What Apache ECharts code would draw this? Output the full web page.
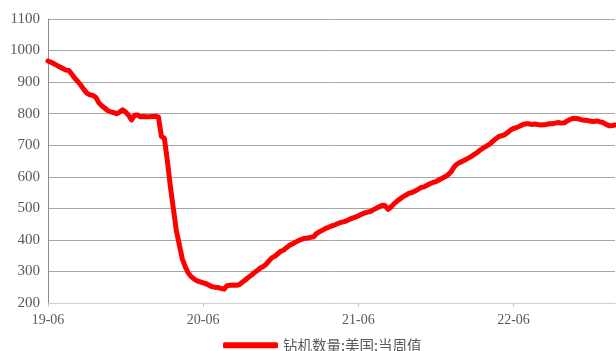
<!DOCTYPE html>
<html>
<head>
<meta charset="utf-8">
<script src="https://cdn.jsdelivr.net/npm/echarts@6/dist/echarts.min.js"></script>
<style>
  html, body { margin: 0; padding: 0; background: #ffffff; }
  #chart { width: 616px; height: 351px; }
</style>
</head>
<body>
<div id="chart"></div>
<script>
// Weekly US rig count (当周值), one block per year starting in June
const rigs2019 = [
  967, 963, 958, 953, 948, 943, 938, 937, 925, 912,
  902, 890, 877, 865, 860, 858, 852, 835, 825, 818,
  810, 806, 803, 800, 805, 812, 805, 795, 780, 795,
  796, 790, 791, 790, 790, 791, 792, 790, 728, 722,
  650, 570, 500, 430, 385, 340, 315, 295, 283, 276,
  270, 267
];
const rigs2020 = [
  264, 261, 256, 252, 250, 249, 246, 244, 255, 256,
  257, 256, 258, 265, 272, 280, 287, 295, 302, 310,
  315, 322, 333, 343, 348, 356, 364, 368, 376, 383,
  388, 393, 398, 402, 405, 406, 408, 410, 420, 426,
  431, 436, 440, 444, 447, 451, 455, 457, 460, 465,
  469, 472
];
const rigs2021 = [
  476, 481, 485, 488, 490, 495, 500, 505, 510, 508,
  497, 505, 515, 523, 530, 537, 542, 548, 550, 555,
  560, 566, 568, 573, 578, 582, 585, 590, 595, 600,
  606, 615, 630, 640, 645, 650, 655, 660, 665, 672,
  678, 686, 692, 698, 703, 712, 720, 727, 730, 733,
  740, 748
];
const rigs2022 = [
  753, 756, 760, 765, 768, 768, 766, 767, 766, 764,
  765, 766, 768, 768, 770, 772, 770, 771, 777, 782,
  785, 785, 783, 780, 779, 778, 776, 775, 777, 774,
  772, 766, 762, 762, 764
];
const rigCount = [].concat(rigs2019, rigs2020, rigs2021, rigs2022);

// Week-ending dates for the category axis
const firstWeek = new Date(Date.UTC(2019, 5, 7));
const weeks = rigCount.map((_, i) => {
  const d = new Date(firstWeek.getTime() + i * 7 * 86400000);
  return d.toISOString().slice(0, 10);
});

// Axis ticks: first week of June each year
const tickWeeks = [0, 52, 104, 156];
const tickLabels = ['19-06', '20-06', '21-06', '22-06'];

const seriesName = '钻机数量:美国:当周值';
const serif = '"Liberation Serif", "Times New Roman", serif';

const chart = echarts.init(document.getElementById('chart'), null, { renderer: 'canvas' });
chart.setOption({
  animation: false,
  backgroundColor: '#ffffff',
  grid: { left: 48, right: 1, top: 19, bottom: 48, containLabel: false },
  xAxis: {
    type: 'category',
    data: weeks,
    boundaryGap: false,
    axisLine: { show: true, lineStyle: { color: '#d0d0d0', width: 1 } },
    axisTick: {
      show: true,
      length: 4,
      lineStyle: { color: '#c8c8c8' },
      interval: (idx) => tickWeeks.includes(idx)
    },
    axisLabel: {
      interval: (idx) => tickWeeks.includes(idx),
      formatter: (val, idx) => tickLabels[tickWeeks.indexOf(idx)] || '',
      color: '#595959',
      fontFamily: serif,
      fontSize: 14,
      margin: 10
    },
    splitLine: { show: false }
  },
  yAxis: {
    type: 'value',
    min: 200,
    max: 1100,
    interval: 100,
    axisLine: { show: true, lineStyle: { color: '#8c8c8c', width: 1 } },
    axisTick: { show: false },
    axisLabel: {
      formatter: (v) => String(v),
      color: '#595959',
      fontFamily: serif,
      fontSize: 15,
      margin: 8
    },
    splitLine: { show: true, lineStyle: { color: '#a6a6a6', width: 1 } }
  },
  legend: {
    data: [seriesName],
    left: 218,
    top: 333,
    icon: 'roundRect',
    itemWidth: 55,
    itemHeight: 6,
    itemGap: 10,
    textStyle: {
      color: '#595959',
      fontSize: 14.5,
      fontFamily: '"Noto Sans CJK SC", sans-serif'
    }
  },
  series: [{
    name: seriesName,
    type: 'line',
    data: rigCount,
    showSymbol: false,
    symbol: 'none',
    lineStyle: { color: '#ff0000', width: 5, cap: 'round', join: 'round' },
    itemStyle: { color: '#ff0000' }
  }]
});
</script>
</body>
</html>
